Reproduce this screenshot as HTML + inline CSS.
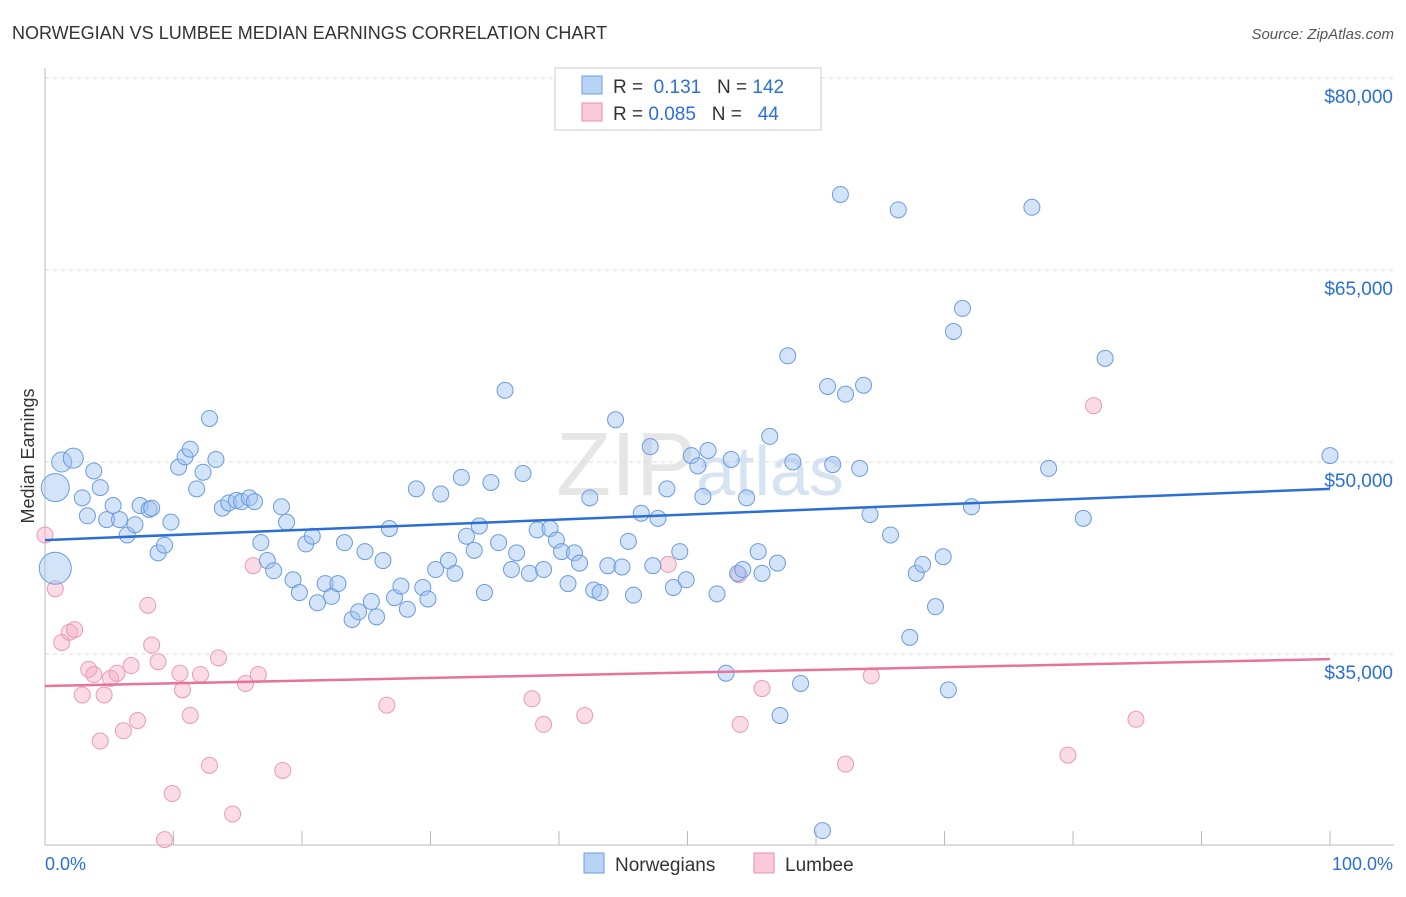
<!DOCTYPE html>
<html><head><meta charset="utf-8"><style>
body{margin:0;background:#fff;font-family:"Liberation Sans",sans-serif;}
svg text{font-family:"Liberation Sans",sans-serif;}
</style></head><body>
<svg id="c" width="1406" height="892" xmlns="http://www.w3.org/2000/svg">
<text x="12" y="39" font-size="18" fill="#333">NORWEGIAN VS LUMBEE MEDIAN EARNINGS CORRELATION CHART</text>
<text x="1394" y="39" font-size="15" fill="#555" font-style="italic" text-anchor="end">Source: ZipAtlas.com</text>
<text x="34" y="456" font-size="18" fill="#333" transform="rotate(-90 34 456)" text-anchor="middle">Median Earnings</text>
<text x="700" y="495" font-size="90" fill="#e6e6e6" text-anchor="middle" font-family="Liberation Serif">ZIP<tspan fill="#d6e3f3" font-family="Liberation Sans" font-size="70">atlas</tspan></text>
<g id="grid"></g><g id="axes"></g><g id="pts"></g><g id="trend"></g>
<g>
<rect x="555" y="68" width="266" height="62" fill="#fff" stroke="#ccc"/>
<rect x="582" y="76" width="20" height="18" fill="#b9d3f5" stroke="#6a9be0"/>
<rect x="582" y="103" width="20" height="18" fill="#fbc9d8" stroke="#e890ab"/>
<text x="613" y="93" font-size="19" fill="#333">R = <tspan fill="#2b6fd6">&#160;0.131</tspan>&#160;&#160;&#160;N = <tspan fill="#2b6fd6">142</tspan></text>
<text x="613" y="120" font-size="19" fill="#333">R = <tspan fill="#2b6fd6">0.085</tspan>&#160;&#160;&#160;N = <tspan fill="#2b6fd6">&#160;&#160;44</tspan></text>
</g>
<g>
<rect x="584" y="853" width="20" height="20" fill="#b9d3f5" stroke="#6a9be0"/>
<text x="615" y="871" font-size="19" fill="#333">Norwegians</text>
<rect x="754" y="853" width="20" height="20" fill="#fbc9d8" stroke="#e890ab"/>
<text x="785" y="871" font-size="19" fill="#333">Lumbee</text>
</g>
<text x="45" y="870" font-size="18" fill="#2b6fd6">0.0%</text>
<text x="1393" y="870" font-size="18" fill="#2b6fd6" text-anchor="end">100.0%</text>
</svg>
<script>
const yTicks=[80000,65000,50000,35000];
const blueX=[0.8,0.8,1.3,2.2,2.9,3.3,3.8,4.3,4.8,5.3,5.8,6.4,7.0,7.4,8.1,8.3,8.8,9.3,9.8,10.4,10.9,11.3,11.8,12.3,12.8,13.3,13.8,14.3,14.9,15.3,15.9,16.3,16.8,17.3,17.8,18.4,18.8,19.3,19.8,20.3,20.8,21.2,21.8,22.3,22.8,23.3,23.9,24.4,24.9,25.4,25.8,26.3,26.8,27.2,27.7,28.2,28.9,29.4,29.8,30.4,30.8,31.4,31.9,32.4,32.8,33.4,33.8,34.2,34.7,35.3,35.8,36.3,36.7,37.2,37.7,38.3,38.8,39.3,39.8,40.2,40.7,41.2,41.6,42.4,42.7,43.2,43.8,44.4,44.9,45.4,45.8,46.4,47.1,47.3,47.7,48.4,48.9,49.4,49.9,50.3,50.8,51.2,51.6,52.3,53.4,53.9,54.3,54.6,53.0,55.5,55.8,56.4,57.0,57.2,57.8,58.2,58.8,60.5,60.9,61.3,61.9,62.3,63.4,63.7,64.2,65.8,66.4,67.3,67.8,68.3,69.3,69.9,70.3,70.7,71.4,72.1,76.8,78.1,80.8,82.5,100.0];
const blueY=[48.0,41.7,50.0,50.3,47.2,45.8,49.3,48.0,45.5,46.6,45.5,44.3,45.1,46.6,46.3,46.4,42.9,43.5,45.3,49.6,50.4,51.0,47.9,49.2,53.4,50.2,46.4,46.8,47.0,46.9,47.2,46.9,43.7,42.3,41.5,46.5,45.3,40.8,39.8,43.6,44.2,39.0,40.5,39.5,40.5,43.7,37.7,38.3,43.0,39.1,37.9,42.3,44.8,39.4,40.3,38.5,47.9,40.2,39.3,41.6,47.5,42.3,41.3,48.8,44.2,43.1,45.0,39.8,48.4,43.7,55.6,41.6,42.9,49.1,41.3,44.7,41.6,44.8,43.9,43.0,40.5,42.9,42.1,47.2,40.0,39.8,41.9,53.3,41.8,43.8,39.6,46.0,51.2,41.9,45.6,47.9,40.2,43.0,40.8,50.5,49.7,47.3,50.9,39.7,50.2,41.3,41.6,47.2,33.5,43.0,41.3,52.0,42.1,30.2,58.3,50.0,32.7,21.2,55.9,49.8,70.9,55.3,49.5,56.0,45.9,44.3,69.7,36.3,41.3,42.0,38.7,42.6,32.2,60.2,62.0,46.5,69.9,49.5,45.6,58.1,50.5];
const blueSize=[14,16,10,10];
const pinkX=[0,0.8,1.3,1.9,2.3,2.9,3.4,3.8,4.3,4.6,5.1,5.6,6.1,6.7,7.2,8.0,8.3,8.8,9.3,9.9,10.5,10.7,11.3,12.1,12.8,13.5,14.6,15.6,16.2,16.6,18.5,26.6,37.9,38.8,42.0,48.5,54.0,54.1,55.8,62.3,64.3,79.6,81.6,84.9];
const pinkY=[44.3,40.1,35.9,36.7,36.9,31.8,33.8,33.4,28.2,31.8,33.1,33.5,29.0,34.1,29.8,38.8,35.7,34.4,20.5,24.1,33.5,32.2,30.2,33.4,26.3,34.7,22.5,32.7,41.9,33.4,25.9,31.0,31.5,29.5,30.2,42.0,41.2,29.5,32.3,26.4,33.3,27.1,54.4,29.9];
const blueTrend=[43.9,47.9];
const pinkTrend=[32.5,34.6];
const NS='http://www.w3.org/2000/svg';
const X=p=>45+p*12.85;
const Y=v=>78+(80-v)*12.8;
function mk(t,a,parent){const e=document.createElementNS(NS,t);for(const k in a)e.setAttribute(k,a[k]);document.getElementById(parent).appendChild(e);return e;}
yTicks.forEach(v=>{
 const l=mk('line',{x1:45,x2:1394,y1:Y(v/1000),y2:Y(v/1000),stroke:'#ddd','stroke-dasharray':'4,4'},'grid');
 
 
 const t=mk('text',{x:1393,y:Y(v/1000)+25,'text-anchor':'end','font-size':19,fill:'#2b6fd6'},'grid');
 t.textContent='$'+v.toLocaleString('en-US');
 
 
});
const ax=mk('line',{x1:45,x2:45,y1:68,y2:845,stroke:'#bbb'},'axes');


const bx=mk('line',{x1:45,x2:1394,y1:845,y2:845,stroke:'#bbb'},'axes');


for(let i=0;i<=10;i++){const t=mk('line',{x1:X(i*10),x2:X(i*10),y1:831,y2:845,stroke:'#bbb'},'axes');
 
 }
pinkX.forEach((x,i)=>{const c=mk('circle',{cx:X(x),cy:Y(pinkY[i]),r:8,fill:'rgba(247,175,198,0.45)',stroke:'#eb9ab4','stroke-width':1},'pts');
 
 });
blueX.forEach((x,i)=>{const c=mk('circle',{cx:X(x),cy:Y(blueY[i]),r:blueSize[i]||8,fill:'rgba(160,195,240,0.45)',stroke:'#6a9be0','stroke-width':1},'pts');
 
 });
const tb=mk('line',{x1:X(0),x2:X(100),y1:Y(blueTrend[0]),y2:Y(blueTrend[1]),stroke:'#2b6fd6','stroke-width':2.5},'trend');


const tp=mk('line',{x1:X(0),x2:X(100),y1:Y(pinkTrend[0]),y2:Y(pinkTrend[1]),stroke:'#e8739a','stroke-width':2.5},'trend');


</script>
</body></html>
